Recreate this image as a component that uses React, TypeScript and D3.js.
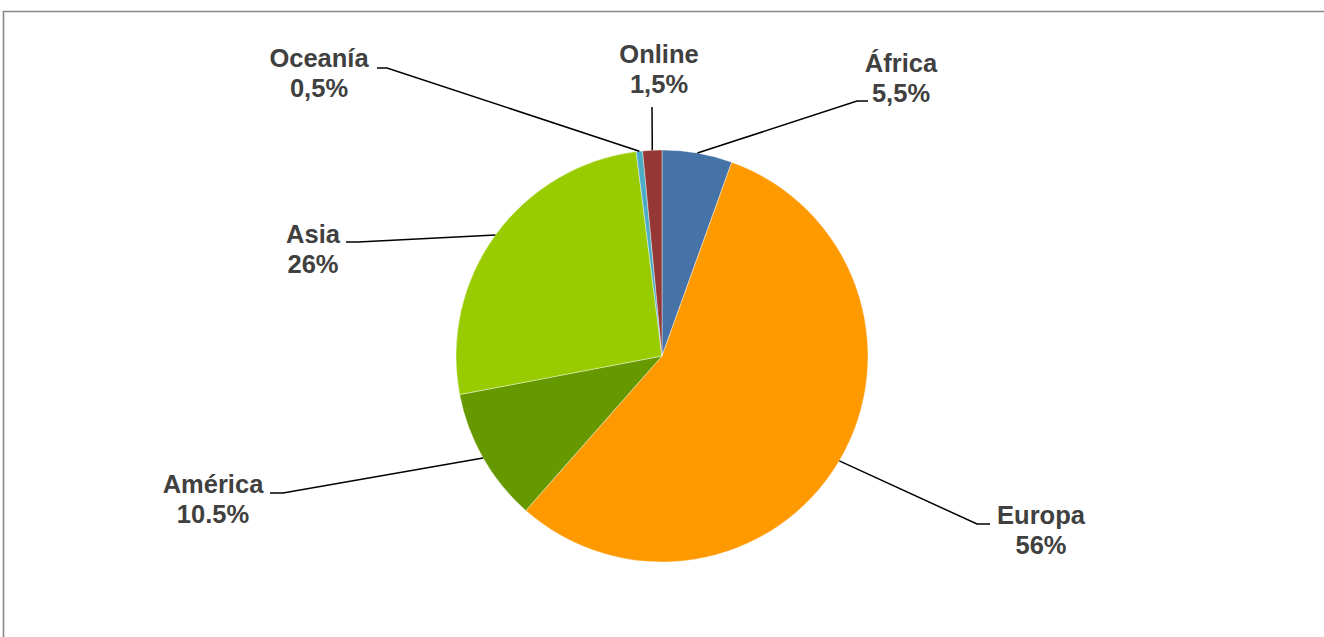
import React from "react";
import * as d3 from "d3";

const categories = ["África", "Europa", "América", "Asia", "Oceanía", "Online"];
const values = [5.5, 56, 10.5, 26, 0.5, 1.5];
const valueLabels = ["5,5%", "56%", "10.5%", "26%", "0,5%", "1,5%"];
const colors = ["#4572A7", "#FF9900", "#669900", "#99CC00", "#4BACC6", "#953735"];

// label layout: text center x, first baseline y, elbow point, stub end
const labelLayout = [
  { x: 901, y: 72, elbow: [857, 101], stub: [868, 101] },
  { x: 1041, y: 524, elbow: [977, 524], stub: [990, 524] },
  { x: 213, y: 493, elbow: [283, 493], stub: [270, 493] },
  { x: 313, y: 243, elbow: [358, 242], stub: [346, 242] },
  { x: 319, y: 67, elbow: [387, 68], stub: [377, 68] },
  { x: 659, y: 63, elbow: [652, 107], stub: [652, 107] },
];

const W = 1324;
const H = 637;
const cx = 662;
const cy = 356;
const R = 206;

export default function App() {
  const pie = d3
    .pie<number>()
    .sort(null)
    .value((d) => d)
    .startAngle(0)
    .endAngle(2 * Math.PI);
  const arcs = pie(values);
  const arc = d3.arc<d3.PieArcDatum<number>>().innerRadius(0).outerRadius(R);

  return (
    <svg
      width={W}
      height={H}
      style={{ position: "absolute", left: 0, top: 0, background: "#fff" }}
    >
      <path d={`M3.5,${H} L3.5,11.5 L${W},11.5`} fill="none" stroke="#868686" strokeWidth={1.6} />
      <g transform={`translate(${cx},${cy})`}>
        {arcs.map((a, i) => (
          <path key={i} d={arc(a) || ""} fill={colors[i]} stroke="#ffffff" strokeWidth={0.4} />
        ))}
      </g>
      {arcs.map((a, i) => {
        const mid = (a.startAngle + a.endAngle) / 2;
        const px = cx + R * Math.sin(mid);
        const py = cy - R * Math.cos(mid);
        const L = labelLayout[i];
        return (
          <polyline
            key={"l" + i}
            points={`${px},${py} ${L.elbow[0]},${L.elbow[1]} ${L.stub[0]},${L.stub[1]}`}
            fill="none"
            stroke="#000"
            strokeWidth={1.5}
          />
        );
      })}
      {categories.map((c, i) => {
        const L = labelLayout[i];
        return (
          <text
            key={"t" + i}
            x={L.x}
            y={L.y}
            textAnchor="middle"
            fontFamily="'Liberation Sans', Arial, sans-serif"
            fontWeight="bold"
            fontSize={25.5}
            fill="#404040"
          >
            <tspan x={L.x} y={L.y}>{c}</tspan>
            <tspan x={L.x} y={L.y + 30}>{valueLabels[i]}</tspan>
          </text>
        );
      })}
    </svg>
  );
}
